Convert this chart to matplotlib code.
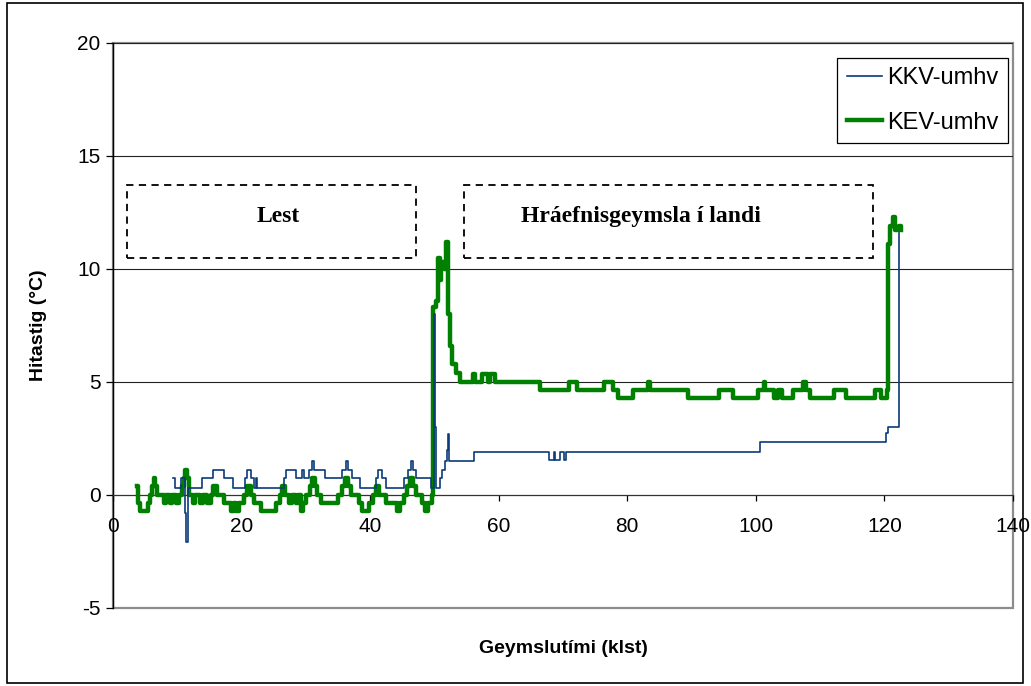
import matplotlib
matplotlib.use("Agg")
import matplotlib.pyplot as plt
from matplotlib.patches import Rectangle

# ---- data (step series, value holds until next breakpoint) ----
kkv_x = [9.4, 9.7, 10.5, 11.2, 11.4, 11.6, 13.9, 15.6, 17.2, 18.6, 20.5, 20.9, 21.5,
         22.0, 22.2, 22.4, 22.6, 26.6, 26.9, 28.4, 29.4, 29.7, 30.5, 31.0, 31.3,
         32.9, 35.6, 36.2, 36.6, 37.2, 38.4, 40.9, 41.2, 41.9, 42.5, 45.3, 45.9,
         46.3, 46.7, 47.2, 49.5, 49.9, 50.1, 50.3, 50.8, 51.2, 51.6, 51.9, 52.1,
         52.3, 56.2, 67.8, 68.6, 68.8, 69.6, 70.2, 70.4, 100.6, 120.3, 120.6,
         122.2, 122.3]
kkv_y = [0.75, 0.3, 0.75, -0.8, -2.1, 0.3, 0.75, 1.1, 0.75, 0.3, 0.75, 1.1, 0.75,
         0.3, 0.75, 0.3, 0.3, 0.75, 1.1, 0.75, 1.1, 0.75, 1.1, 1.5, 1.1,
         0.75, 1.1, 1.5, 1.1, 0.75, 0.3, 0.75, 1.1, 0.75, 0.3, 0.75, 1.1,
         1.5, 1.1, 0.75, 0.3, 8.0, 3.0, 0.3, 0.75, 1.1, 1.5, 2.0, 2.7,
         1.5, 1.9, 1.55, 1.9, 1.55, 1.9, 1.55, 1.9, 2.35, 2.75, 3.0,
         11.6, 11.6]

kev_x = [3.7, 3.9, 4.2, 5.5, 5.8, 6.1, 6.3, 6.6, 6.8, 8.0, 8.3, 8.8, 9.2, 9.8, 10.3,
         10.7, 11.0, 11.2, 11.5, 11.8, 12.4, 12.8, 13.6, 14.0, 14.6, 15.2, 15.6,
         16.2, 17.2, 18.3, 18.8, 19.2, 19.6, 20.3, 20.8, 21.4, 22.0, 23.0, 25.3,
         25.9, 26.3, 26.8, 27.4, 27.8, 28.4, 28.8, 29.3, 29.6, 30.0, 30.6, 31.0,
         31.4, 31.7, 32.4, 35.0, 35.6, 36.1, 36.6, 37.0, 38.2, 38.8, 39.8, 40.4,
         40.9, 41.4, 42.4, 44.2, 44.6, 45.2, 45.7, 46.2, 46.7, 47.1, 48.0, 48.6,
         49.0, 49.6, 49.8, 50.3, 50.5, 50.8, 51.0, 51.5, 51.8, 52.1, 52.4, 52.8,
         53.4, 54.0, 56.0, 56.3, 57.4, 58.3, 58.6, 59.4, 66.4, 70.9, 72.1, 76.3,
         77.7, 78.6, 80.9, 83.3, 83.5, 89.4, 94.3, 96.4, 100.3, 101.2, 101.5,
         102.8, 103.4, 104.0, 105.7, 107.4, 107.8, 108.4, 112.1, 114.1, 118.6,
         119.4, 120.4, 120.5, 120.8, 121.3, 121.6, 122.3, 122.6]
kev_y = [0.37, -0.37, -0.74, -0.37, 0.0, 0.37, 0.74, 0.37, 0.0, -0.37, 0.0, -0.37, 0.0, -0.37, 0.0,
         0.37, 0.74, 1.1, 0.74, 0.0, -0.37, 0.0, -0.37, 0.0, -0.37, 0.0, 0.37,
         0.0, -0.37, -0.74, -0.37, -0.74, -0.37, 0.0, 0.37, 0.0, -0.37, -0.74, -0.37,
         0.0, 0.37, 0.0, -0.37, 0.0, -0.37, 0.0, -0.74, -0.37, 0.0, 0.37, 0.74,
         0.37, 0.0, -0.37, 0.0, 0.37, 0.74, 0.37, 0.0, -0.37, -0.74, -0.37, 0.0,
         0.37, 0.0, -0.37, -0.74, -0.37, 0.0, 0.37, 0.74, 0.37, 0.0, -0.37, -0.74,
         -0.37, 0.0, 8.3, 8.6, 10.5, 9.5, 10.3, 10.0, 11.2, 8.0, 6.6, 5.8,
         5.4, 5.0, 5.35, 5.0, 5.35, 5.0, 5.35, 5.0, 4.65, 5.0, 4.65, 5.0,
         4.65, 4.3, 4.65, 5.0, 4.65, 4.3, 4.65, 4.3, 4.65, 5.0, 4.65,
         4.3, 4.65, 4.3, 4.65, 5.0, 4.65, 4.3, 4.65, 4.3, 4.65,
         4.3, 4.65, 11.1, 11.9, 12.3, 11.7, 11.9, 11.7]

series_labels = ["KKV-umhv", "KEV-umhv"]
x_ticks = [0, 20, 40, 60, 80, 100, 120, 140]
y_ticks = [-5, 0, 5, 10, 15, 20]
x_label = "Geymslutími (klst)"
y_label = "Hitastig (°C)"
box_labels = ["Lest", "Hráefnisgeymsla í landi"]
box_x0 = [2.2, 54.6]
box_x1 = [47.1, 118.2]
box_text_x = [25.7, 82.1]
box_y = (10.46, 13.7)

sans = ["Liberation Sans", "DejaVu Sans"]
serif = ["Liberation Serif", "DejaVu Serif"]
plt.rcParams['font.family'] = sans
plt.rcParams['axes.unicode_minus'] = False

fig = plt.figure(figsize=(10.31, 6.86), dpi=100)
ax = fig.add_axes([113/1031, (686-607.7)/686, 900/1031, 564.7/686])

ax.plot(kkv_x, kkv_y, drawstyle='steps-post', color='#0b3b7a', lw=1.2,
        label=series_labels[0], zorder=4)
ax.plot(kev_x, kev_y, drawstyle='steps-post', color='#008000', lw=3.2,
        label=series_labels[1], zorder=3)

ax.set_xlim(0, 140)
ax.set_ylim(-5, 20)
ax.set_xticks(x_ticks)
ax.set_yticks(y_ticks)
for yv in y_ticks:
    if yv > 0:
        ax.axhline(yv, color='#222222', lw=0.8, zorder=1)

for s in ['top', 'right']:
    ax.spines[s].set_visible(False)
ax.spines['bottom'].set_position(('data', 0))
ax.spines['bottom'].set_color('#333333')
ax.spines['bottom'].set_linewidth(0.9)
ax.spines['left'].set_color('black')
ax.spines['left'].set_linewidth(1.0)
ax.add_patch(Rectangle((0, 0), 1, 1, transform=ax.transAxes, fill=False,
                       edgecolor='#8c8c8c', lw=1.6, zorder=0.5, clip_on=False))

ax.tick_params(axis='both', direction='out', width=0.9, labelsize=15, colors='black')
ax.tick_params(axis='x', length=4, pad=12)
ax.tick_params(axis='y', length=5, pad=4)

ax.set_xlabel(x_label, fontsize=14, fontweight='bold')
ax.xaxis.set_label_coords(0.5, -0.058)
ax.set_ylabel(y_label, fontsize=14, fontweight='bold')
ax.yaxis.set_label_coords(-0.073, 0.5)

for txt, x0, x1, tx in zip(box_labels, box_x0, box_x1, box_text_x):
    ax.add_patch(Rectangle((x0, box_y[0]), x1 - x0, box_y[1] - box_y[0], fill=False,
                           edgecolor='black', lw=1.3, linestyle=(0, (4, 3)), zorder=2))
    ax.text(tx, 12.3, txt, family=serif, fontsize=17, fontweight='bold',
            ha='center', va='center')

leg = ax.legend(loc='upper right', bbox_to_anchor=(0.994, 0.974), fontsize=17,
                frameon=True, fancybox=False, edgecolor='black', framealpha=1,
                handlelength=1.5, handletextpad=0.2, borderpad=0.4,
                labelspacing=0.95, borderaxespad=0)
leg.get_frame().set_linewidth(0.9)

fig.add_artist(Rectangle((7/1031, 3/686), 1016/1031, 680/686, transform=fig.transFigure,
                         fill=False, edgecolor='black', lw=1.2))

fig.savefig("out.png", dpi=100)
